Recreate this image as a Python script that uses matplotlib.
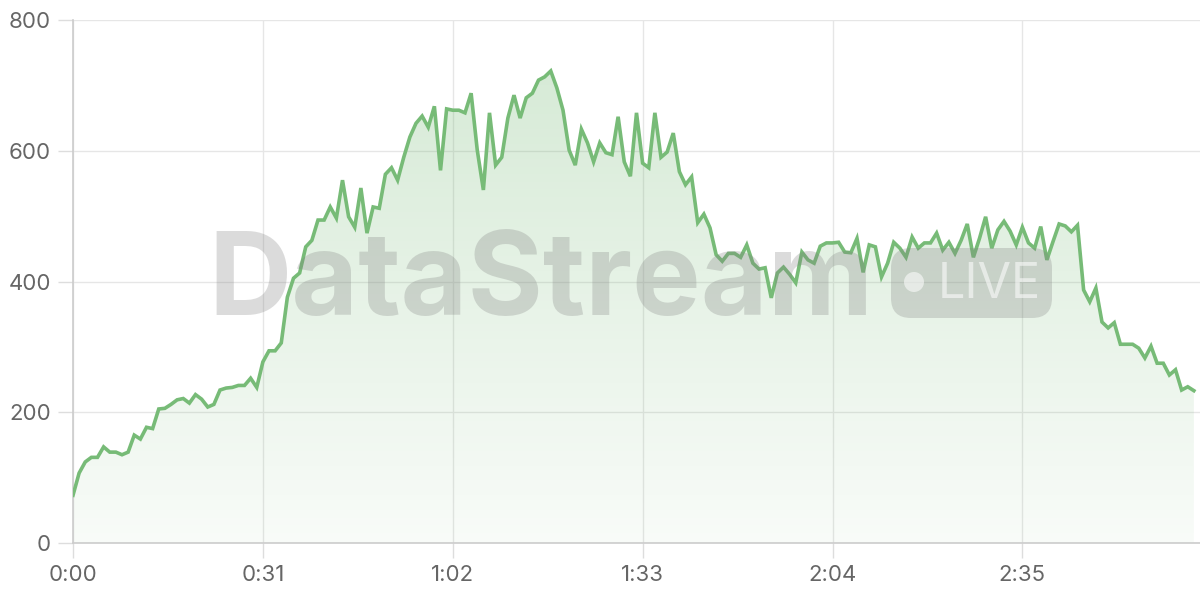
import numpy as np
import matplotlib.pyplot as plt
from matplotlib.patches import FancyBboxPatch, Circle
from matplotlib.transforms import IdentityTransform

plt.rcParams['font.family'] = ['Inter', 'DejaVu Sans']

# one reading per second, 0:00 .. 3:03
values = [73, 107, 124, 131, 131, 147, 139, 139, 135, 139,
          165, 159, 177, 175, 205, 206, 212, 219, 221, 214,
          227, 220, 208, 212, 234, 237, 238, 241, 241, 252,
          238, 277, 294, 294, 306, 376, 405, 413, 453, 463,
          494, 494, 514, 497, 555, 499, 483, 543, 474, 514,
          512, 564, 574, 555, 590, 621, 642, 653, 636, 668,
          570, 664, 662, 662, 658, 688, 601, 540, 658, 578,
          590, 650, 685, 650, 681, 688, 708, 713, 722, 696,
          662, 601, 578, 633, 612, 583, 612, 597, 594, 652,
          583, 561, 658, 581, 574, 658, 590, 598, 627, 568,
          548, 560, 490, 503, 482, 441, 431, 443, 443, 437,
          456, 428, 419, 421, 375, 413, 422, 411, 398, 445,
          433, 428, 454, 459, 459, 460, 445, 444, 466, 414,
          456, 453, 407, 428, 460, 451, 437, 468, 451, 459,
          459, 474, 448, 460, 443, 463, 488, 437, 466, 499,
          451, 479, 492, 477, 456, 483, 459, 451, 484, 433,
          461, 488, 485, 476, 486, 387, 369, 390, 338, 329,
          337, 304, 304, 304, 298, 283, 301, 275, 275, 257,
          265, 234, 239, 233]
seconds = np.arange(len(values))

tick_secs = [0, 31, 62, 93, 124, 155]
tick_labels = ['0:00', '0:31', '1:02', '1:33', '2:04', '2:35']
y_ticks = [0, 200, 400, 600, 800]

line_color = '#77bb77'

fig = plt.figure(figsize=(12, 6), dpi=100)
ax = fig.add_axes([73 / 1200, 57 / 600, 1 - 73 / 1200, (543 - 20) / 600])

# gradient fill under the line
poly = ax.fill_between(seconds, values, 0, color='none', zorder=1)
grad = np.zeros((256, 1, 4))
grad[:, 0, 0] = 0.47
grad[:, 0, 1] = 0.73
grad[:, 0, 2] = 0.47
grad[:, 0, 3] = np.linspace(0.30, 0.05, 256)
img = ax.imshow(grad, aspect='auto', extent=[0, seconds[-1], 0, 730],
                origin='upper', zorder=1)
img.set_clip_path(poly.get_paths()[0], transform=ax.transData)

ax.plot(seconds, values, color=line_color, linewidth=2.6, zorder=4,
        solid_joinstyle='miter')

ax.set_xlim(0, 184)
ax.set_ylim(0, 800)
ax.set_xticks(tick_secs)
ax.set_xticklabels(tick_labels)
ax.set_yticks(y_ticks)
ax.grid(True, color='#e6e6e6', linewidth=1)
ax.set_axisbelow(True)
ax.tick_params(axis='both', colors='#dddddd', length=11, width=1,
               labelcolor='#666666', labelsize=16)
ax.tick_params(axis='x', pad=5)
ax.tick_params(axis='y', pad=5)
for side in ['top', 'right']:
    ax.spines[side].set_visible(False)
for side in ['left', 'bottom']:
    ax.spines[side].set_color('#cccccc')
    ax.spines[side].set_linewidth(1.2)

# watermark (pixel coordinates, origin bottom-left)
px = IdentityTransform()
fig.text(208 / 1200, 1 - 315 / 600, 'DataStream', fontsize=83,
         fontweight='bold', color='#808080', alpha=0.28, zorder=3,
         ha='left', va='baseline')
box = FancyBboxPatch((891, 600 - 318), 161, 70,
                     boxstyle='round,pad=0,rounding_size=20',
                     transform=px, facecolor='#808080',
                     edgecolor='none', alpha=0.28, zorder=3)
fig.add_artist(box)
fig.add_artist(Circle((914, 600 - 282), 10, transform=px,
                      facecolor='white', edgecolor='none', alpha=0.55,
                      zorder=3))
fig.text(938 / 1200, 1 - 298 / 600, 'LIVE', fontsize=35, color='white',
         alpha=0.55, zorder=3, ha='left', va='baseline')

plt.savefig('out.png', dpi=100)
